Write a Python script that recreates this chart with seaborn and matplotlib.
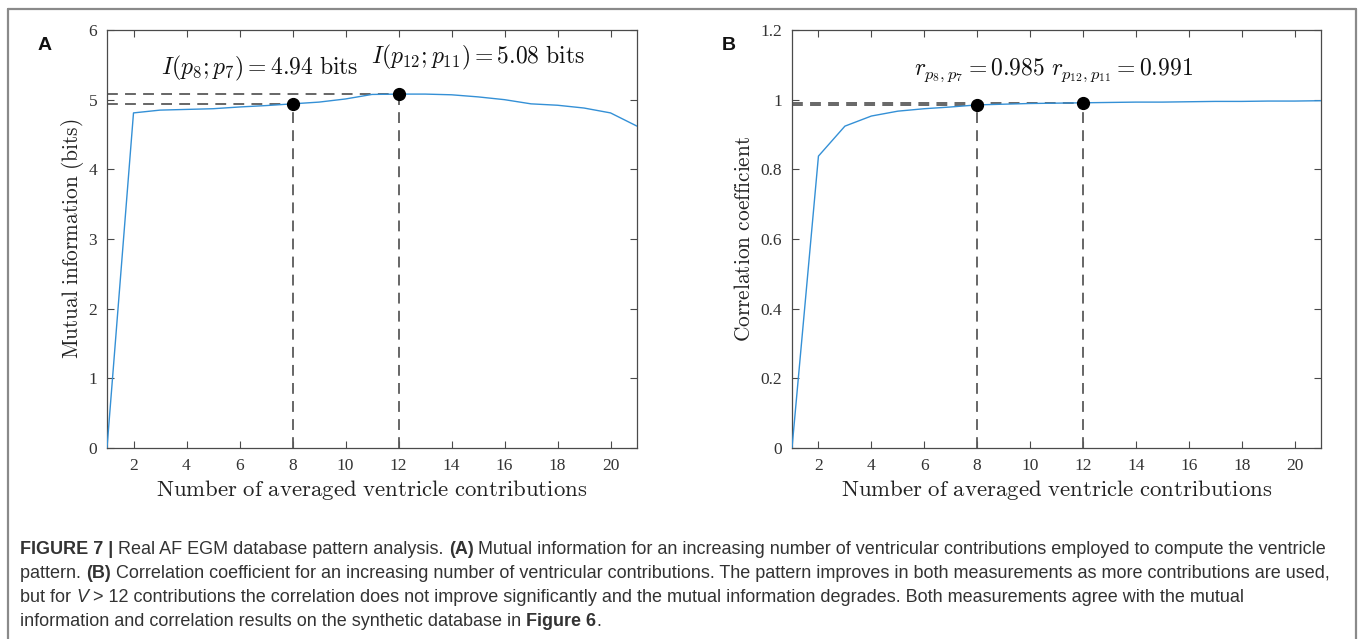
import matplotlib
matplotlib.use("Agg")
import matplotlib.pyplot as plt
import matplotlib.lines as mlines
import pandas as pd
import seaborn as sns

# ---- data -------------------------------------------------------------
contributions = list(range(1, 22))
mutual_info = [0.0, 4.81, 4.85, 4.86, 4.87, 4.895, 4.915, 4.94, 4.965, 5.01,
               5.075, 5.08, 5.08, 5.07, 5.04, 5.00, 4.94, 4.92, 4.88, 4.81, 4.62]
correlation = [0.0, 0.838, 0.924, 0.953, 0.967, 0.974, 0.979, 0.985, 0.987,
               0.989, 0.990, 0.991, 0.992, 0.993, 0.993, 0.994, 0.995, 0.995,
               0.996, 0.996, 0.997]
highlight_n = [8, 12]
x_ticks = [2, 4, 6, 8, 10, 12, 14, 16, 18, 20]
mi_ticks = [0, 1, 2, 3, 4, 5, 6]
corr_ticks = [0, 0.2, 0.4, 0.6, 0.8, 1.0, 1.2]
corr_tick_labels = ["0", "0.2", "0.4", "0.6", "0.8", "1", "1.2"]

caption_lines = [
    [("FIGURE 7 | ", "bold", "normal"),
     ("Real AF EGM database pattern analysis. ", "normal", "normal"),
     ("(A)", "bold", "normal"),
     (" Mutual information for an increasing number of ventricular contributions "
      "employed to compute the ventricle", "normal", "normal")],
    [("pattern. ", "normal", "normal"),
     ("(B)", "bold", "normal"),
     (" Correlation coefficient for an increasing number of ventricular contributions. "
      "The pattern improves in both measurements as more contributions are used,",
      "normal", "normal")],
    [("but for ", "normal", "normal"),
     ("V", "normal", "italic"),
     (" > 12 contributions the correlation does not improve significantly and the mutual "
      "information degrades. Both measurements agree with the mutual", "normal", "normal")],
    [("information and correlation results on the synthetic database in ", "normal", "normal"),
     ("Figure 6", "bold", "normal"),
     (".", "normal", "normal")],
]

# ---- style ------------------------------------------------------------
sns.set_theme(style="ticks")
plt.rcParams["font.family"] = ["Liberation Serif", "DejaVu Serif"]
plt.rcParams["mathtext.fontset"] = "cm"

AXIS_COLOR = "#4a4a4a"
LINE_COLOR = "#3490d6"
DASH_COLOR = "#5a5a5a"

W, H = 1360, 639
fig = plt.figure(figsize=(W / 100, H / 100), dpi=100)
fig.patch.set_facecolor("white")


def px_axes(left, top, right, bottom):
    return fig.add_axes([left / W, 1 - bottom / H, (right - left) / W, (bottom - top) / H])


ax_a = px_axes(107, 30, 637, 448)
ax_b = px_axes(792, 30, 1321, 448)

df = pd.DataFrame({"n": contributions, "mi": mutual_info, "r": correlation})


def style_axes(ax, yticks, ylabels, ymax, ylabel, ypad):
    ax.set_xlim(1, 21)
    ax.set_ylim(0, ymax)
    ax.set_xticks(x_ticks)
    ax.set_xticklabels([str(t) for t in x_ticks])
    ax.set_yticks(yticks)
    ax.set_yticklabels(ylabels)
    ax.tick_params(direction="in", top=True, right=True, length=5, width=0.8,
                   color=AXIS_COLOR, labelcolor="#333333", labelsize=12.5, pad=7)
    for sp in ax.spines.values():
        sp.set_visible(True)
        sp.set_color(AXIS_COLOR)
        sp.set_linewidth(0.9)
    ax.set_xlabel(r"$\mathrm{Number\ of\ averaged\ ventricle\ contributions}$",
                  fontsize=16.4, color="#222222", labelpad=3)
    ax.set_ylabel(ylabel, fontsize=15.4, color="#222222", labelpad=ypad)
    ax.grid(False)


def highlight(ax, col):
    for n in highlight_n:
        v = df.loc[df["n"] == n, col].iloc[0]
        ax.plot([1, n], [v, v], color=DASH_COLOR, lw=1.3, dashes=(6, 4), zorder=2)
        ax.plot([n, n], [0, v], color=DASH_COLOR, lw=1.3, dashes=(6, 4), zorder=2)
        ax.plot([n], [v], "o", color="black", ms=8.5, zorder=4)


ANN_SIZE = 17

# Panel A: mutual information
sns.lineplot(data=df, x="n", y="mi", ax=ax_a, color=LINE_COLOR, lw=1.0, zorder=3)
style_axes(ax_a, mi_ticks, [str(t) for t in mi_ticks], 6,
           r"$\mathrm{Mutual\ information\ (bits)}$", 1.5)
highlight(ax_a, "mi")
mi8 = df.loc[df["n"] == 8, "mi"].iloc[0]
mi12 = df.loc[df["n"] == 12, "mi"].iloc[0]
ax_a.text(3.05, 5.45, rf"$I(p_8;p_7) = {mi8:.2f}\ \mathrm{{bits}}$",
          fontsize=ANN_SIZE, va="center", ha="left", color="#111111")
ax_a.text(10.98, 5.61, rf"$I(p_{{12}};p_{{11}}) = {mi12:.2f}\ \mathrm{{bits}}$",
          fontsize=ANN_SIZE, va="center", ha="left", color="#111111")

# Panel B: correlation coefficient
sns.lineplot(data=df, x="n", y="r", ax=ax_b, color=LINE_COLOR, lw=1.0, zorder=3)
style_axes(ax_b, corr_ticks, corr_tick_labels, 1.2,
           r"$\mathrm{Correlation\ coefficient}$", 4)
highlight(ax_b, "r")
r8 = df.loc[df["n"] == 8, "r"].iloc[0]
r12 = df.loc[df["n"] == 12, "r"].iloc[0]
ax_b.text(5.62, 1.085, rf"$r_{{p_8,p_7}} = {r8:.3f}$",
          fontsize=ANN_SIZE, va="center", ha="left", color="#111111")
ax_b.text(10.8, 1.085, rf"$r_{{p_{{12}},p_{{11}}}} = {r12:.3f}$",
          fontsize=ANN_SIZE, va="center", ha="left", color="#111111")

# Panel letters
sans = ["Liberation Sans", "DejaVu Sans"]
fig.text(45 / W, 1 - 45 / H, "A", family=sans, weight="bold", fontsize=14,
         ha="center", va="center", color="#111111")
fig.text(729 / W, 1 - 45 / H, "B", family=sans, weight="bold", fontsize=14,
         ha="center", va="center", color="#111111")

# Frame around the figure panel (left, top, right)
frame_kw = dict(color="#8a8a8a", lw=1.6, transform=fig.transFigure)
fig.add_artist(mlines.Line2D([8 / W, 8 / W], [0, 1 - 9 / H], **frame_kw))
fig.add_artist(mlines.Line2D([8 / W, 1356 / W], [1 - 9 / H, 1 - 9 / H], **frame_kw))
fig.add_artist(mlines.Line2D([1356 / W, 1356 / W], [0, 1 - 9 / H], **frame_kw))

# ---- caption, laid out run by run -------------------------------------
renderer = fig.canvas.get_renderer()


def run_width(text, size, weight, style):
    t1 = fig.text(0, 0, "x" + text + "x", family=sans, fontsize=size,
                  weight=weight, style=style)
    t2 = fig.text(0, 0, "xx", family=sans, fontsize=size, weight=weight, style=style)
    w = t1.get_window_extent(renderer).width - t2.get_window_extent(renderer).width
    t1.remove()
    t2.remove()
    return w


base = 10.0
first_w = sum(run_width(t, base, wt, st) for t, wt, st in caption_lines[0])
cap_size = base * 1310.0 / first_w

baselines = [554, 578, 602, 626]
for runs, yb in zip(caption_lines, baselines):
    x = 20.0
    for text, wt, st in runs:
        fig.text(x / W, 1 - yb / H, text, family=sans, fontsize=cap_size,
                 weight=wt, style=st, ha="left", va="baseline", color="#333333")
        x += run_width(text, cap_size, wt, st)

fig.savefig("out.png", dpi=100, facecolor="white")
